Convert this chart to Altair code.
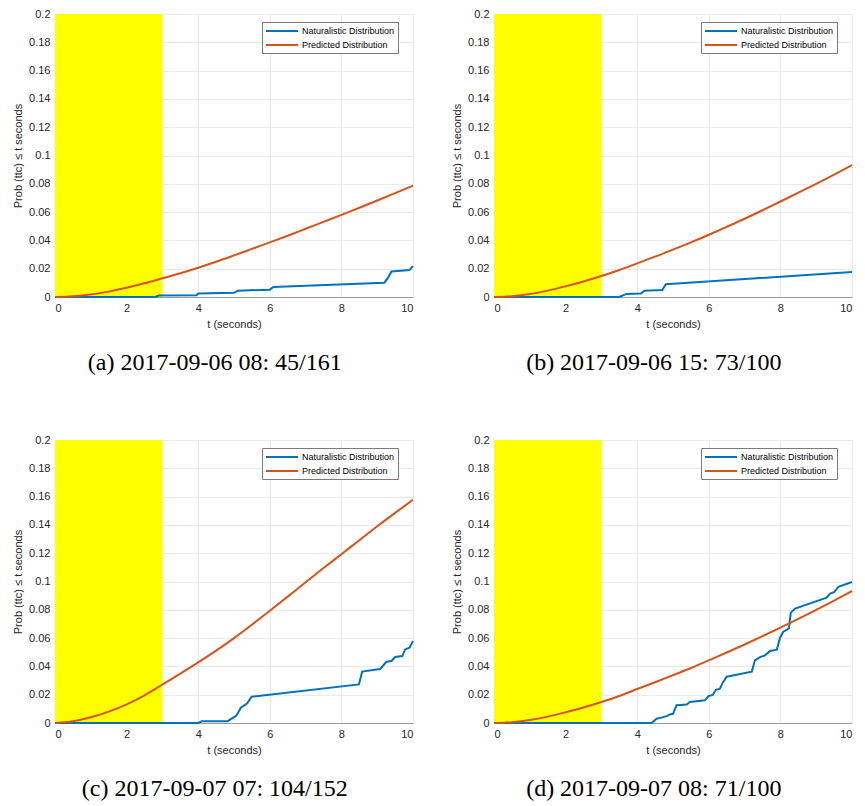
import altair as alt
import pandas as pd

# ---------------- data ----------------
SERIES = ["Naturalistic Distribution", "Predicted Distribution"]
COLORS = ["#0072BD", "#D95319"]
CAPTIONS = [
    "(a) 2017-09-06 08: 45/161",
    "(b) 2017-09-06 15: 73/100",
    "(c) 2017-09-07 07: 104/152",
    "(d) 2017-09-07 08: 71/100",
]
SHADE_START = [0.0]
SHADE_END = [3.0]
X_TICKS = [0, 2, 4, 6, 8, 10]
Y_TICKS = [0, 0.02, 0.04, 0.06, 0.08, 0.1, 0.12, 0.14, 0.16, 0.18, 0.2]

# predicted distribution (smooth curves), sampled every 0.5 s
PRED_T = [0, 0.5, 1, 1.5, 2, 2.5, 3, 3.5, 4, 4.5, 5, 5.5, 6, 6.5, 7, 7.5, 8, 8.5, 9, 9.5, 10]
PRED_A = [0, 0.0005, 0.0018, 0.0038, 0.0066, 0.0097, 0.0132, 0.0168, 0.0207, 0.0249, 0.0294,
          0.0340, 0.0386, 0.0433, 0.0482, 0.0531, 0.0580, 0.0631, 0.0682, 0.0734, 0.0787]
PRED_B = [0, 0.0006, 0.0021, 0.0045, 0.0076, 0.0110, 0.0148, 0.0191, 0.0238, 0.0285, 0.0335,
          0.0386, 0.0440, 0.0496, 0.0553, 0.0613, 0.0675, 0.0737, 0.0800, 0.0865, 0.0932]
PRED_C = [0, 0.0012, 0.0040, 0.0080, 0.0132, 0.0196, 0.0272, 0.0349, 0.0428, 0.0511, 0.0600,
          0.0695, 0.0793, 0.0893, 0.0995, 0.1095, 0.1193, 0.1292, 0.1390, 0.1485, 0.1578]
PRED_D = [0, 0.0006, 0.0021, 0.0045, 0.0076, 0.0110, 0.0148, 0.0191, 0.0240, 0.0288, 0.0338,
          0.0389, 0.0443, 0.0498, 0.0555, 0.0614, 0.0674, 0.0736, 0.0800, 0.0865, 0.0933]

# naturalistic distribution (empirical, step-like)
NAT_A_T = [0, 2.8, 2.9, 3.95, 4.0, 5.0, 5.1, 6.0, 6.1, 9.2, 9.3, 9.4, 9.9, 10]
NAT_A_P = [0, 0, 0.0010, 0.0013, 0.0024, 0.0030, 0.0045, 0.0052, 0.0071, 0.0101, 0.0135,
           0.0180, 0.0190, 0.0218]
NAT_B_T = [0, 3.5, 3.7, 4.1, 4.2, 4.7, 4.8, 10]
NAT_B_P = [0, 0, 0.0022, 0.0024, 0.0045, 0.0050, 0.0090, 0.0177]
NAT_C_T = [0, 4.0, 4.1, 4.82, 5.07, 5.19, 5.37, 5.49, 8.49, 8.58, 9.08, 9.26, 9.4, 9.5,
           9.7, 9.78, 9.9, 10]
NAT_C_P = [0, 0, 0.0012, 0.0013, 0.0052, 0.0108, 0.0139, 0.0186, 0.0273, 0.0363, 0.0382,
           0.0433, 0.0438, 0.0466, 0.0473, 0.0520, 0.0532, 0.0580]
NAT_D_T = [0, 4.40, 4.54, 4.68, 4.84, 4.93, 5.0, 5.1, 5.38, 5.47, 5.89, 5.99, 6.11, 6.2,
           6.31, 6.39, 6.5, 7.2, 7.29, 7.43, 7.57, 7.71, 7.9, 7.99, 8.08, 8.18, 8.24, 8.29,
           8.41, 9.29, 9.39, 9.5, 9.62, 10]
NAT_D_P = [0, 0, 0.0030, 0.0038, 0.0050, 0.0062, 0.0065, 0.0125, 0.0130, 0.0148, 0.0160,
           0.0190, 0.0198, 0.0235, 0.0243, 0.0285, 0.0327, 0.0363, 0.0443, 0.0466, 0.0478,
           0.0509, 0.0518, 0.0603, 0.0645, 0.0660, 0.0670, 0.0780, 0.0808, 0.0886, 0.0915,
           0.0925, 0.0963, 0.0996]

PANELS = [
    (NAT_A_T, NAT_A_P, PRED_A),
    (NAT_B_T, NAT_B_P, PRED_B),
    (NAT_C_T, NAT_C_P, PRED_C),
    (NAT_D_T, NAT_D_P, PRED_D),
]

W, H = 358, 283
FONT = "Liberation Sans"


def panel(idx):
    nat_t, nat_p, pred = PANELS[idx]
    nat = pd.DataFrame({"t": nat_t, "p": nat_p, "series": SERIES[0], "o": range(len(nat_t))})
    prd = pd.DataFrame({"t": PRED_T, "p": pred, "series": SERIES[1], "o": range(len(PRED_T))})
    shade = pd.DataFrame({"x0": SHADE_START, "x1": SHADE_END, "y0": [Y_TICKS[0]], "y1": [Y_TICKS[-1]]})

    xscale = alt.Scale(domain=[0, 10], nice=False)
    yscale = alt.Scale(domain=[0, 0.2], nice=False)

    xaxis = alt.Axis(values=X_TICKS, title="t (seconds)", grid=True, ticks=False,
                     labelPadding=5, titlePadding=5, domainColor="#9a9a9a")
    yaxis = alt.Axis(values=Y_TICKS, title="Prob (ttc) ≤ t seconds", format="~g", grid=True,
                     ticks=False, labelPadding=5, titlePadding=5, domain=False)

    color = alt.Color(
        "series:N",
        scale=alt.Scale(domain=SERIES, range=COLORS),
        legend=alt.Legend(
            title=None, orient="none", legendX=207, legendY=8,
            symbolType="M-1,0H5.4", symbolStrokeWidth=2, symbolSize=100,
            labelFont=FONT, labelFontSize=9, labelColor="black",
            strokeColor="#7a7a7a", fillColor="white", padding=3,
            rowPadding=3, labelOffset=25, cornerRadius=0, symbolOpacity=1,
        ),
    )

    rect = alt.Chart(shade).mark_rect(color="#FFFF00", opacity=1).encode(
        x=alt.X("x0:Q", scale=xscale, axis=xaxis),
        x2="x1:Q",
        y=alt.Y("y0:Q", scale=yscale, axis=yaxis),
        y2="y1:Q",
    )
    nat_line = alt.Chart(nat).mark_line(strokeWidth=2, interpolate="linear").encode(
        x=alt.X("t:Q", scale=xscale, axis=xaxis),
        y=alt.Y("p:Q", scale=yscale, axis=yaxis),
        order="o:Q",
        color=color,
    )
    prd_line = alt.Chart(prd).mark_line(strokeWidth=2, interpolate="monotone").encode(
        x=alt.X("t:Q", scale=xscale, axis=xaxis),
        y=alt.Y("p:Q", scale=yscale, axis=yaxis),
        order="o:Q",
        color=color,
    )
    return alt.layer(rect, nat_line, prd_line).properties(
        width=W, height=H,
        title=alt.TitleParams(
            text=CAPTIONS[idx], orient="bottom", anchor="middle", frame="bounds",
            font="Liberation Serif", fontSize=24, fontWeight="normal", color="black",
            offset=22,
        ),
    )


row1 = alt.hconcat(panel(0), panel(1), spacing=34).resolve_scale(color="independent").resolve_legend(color="independent")
row2 = alt.hconcat(panel(2), panel(3), spacing=34).resolve_scale(color="independent").resolve_legend(color="independent")

chart = alt.vconcat(row1, row2, spacing=59).resolve_scale(color="independent").resolve_legend(
    color="independent"
).properties(
    padding={"left": 4, "top": 0, "right": 0, "bottom": 0},
    background="white",
).configure_axis(
    labelFont=FONT, labelFontSize=11, labelColor="#262626",
    titleFont=FONT, titleFontSize=11, titleFontWeight="normal", titleColor="#262626",
    gridColor="#ebebeb", gridWidth=1,
).configure_view(stroke=None)

chart.save("out.html", embed_options={"renderer": "svg", "actions": False})
